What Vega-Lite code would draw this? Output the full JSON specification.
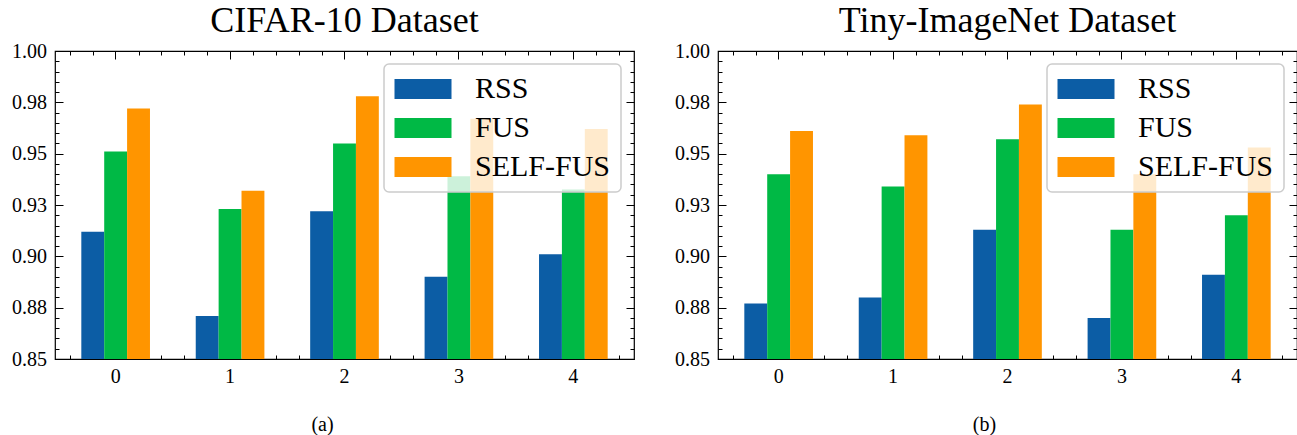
{
  "$schema": "https://vega.github.io/schema/vega-lite/v6.json",
  "padding": {"left": 10, "top": 2, "right": 0, "bottom": 0},
  "datasets": {
    "scores": [
      {"dataset": "CIFAR-10", "group": 0, "method": "RSS", "value": 0.912},
      {"dataset": "CIFAR-10", "group": 0, "method": "FUS", "value": 0.951},
      {"dataset": "CIFAR-10", "group": 0, "method": "SELF-FUS", "value": 0.972},
      {"dataset": "CIFAR-10", "group": 1, "method": "RSS", "value": 0.871},
      {"dataset": "CIFAR-10", "group": 1, "method": "FUS", "value": 0.923},
      {"dataset": "CIFAR-10", "group": 1, "method": "SELF-FUS", "value": 0.932},
      {"dataset": "CIFAR-10", "group": 2, "method": "RSS", "value": 0.922},
      {"dataset": "CIFAR-10", "group": 2, "method": "FUS", "value": 0.955},
      {"dataset": "CIFAR-10", "group": 2, "method": "SELF-FUS", "value": 0.978},
      {"dataset": "CIFAR-10", "group": 3, "method": "RSS", "value": 0.890},
      {"dataset": "CIFAR-10", "group": 3, "method": "FUS", "value": 0.939},
      {"dataset": "CIFAR-10", "group": 3, "method": "SELF-FUS", "value": 0.967},
      {"dataset": "CIFAR-10", "group": 4, "method": "RSS", "value": 0.901},
      {"dataset": "CIFAR-10", "group": 4, "method": "FUS", "value": 0.9325},
      {"dataset": "CIFAR-10", "group": 4, "method": "SELF-FUS", "value": 0.962},
      {"dataset": "Tiny-ImageNet", "group": 0, "method": "RSS", "value": 0.877},
      {"dataset": "Tiny-ImageNet", "group": 0, "method": "FUS", "value": 0.940},
      {"dataset": "Tiny-ImageNet", "group": 0, "method": "SELF-FUS", "value": 0.961},
      {"dataset": "Tiny-ImageNet", "group": 1, "method": "RSS", "value": 0.880},
      {"dataset": "Tiny-ImageNet", "group": 1, "method": "FUS", "value": 0.934},
      {"dataset": "Tiny-ImageNet", "group": 1, "method": "SELF-FUS", "value": 0.959},
      {"dataset": "Tiny-ImageNet", "group": 2, "method": "RSS", "value": 0.913},
      {"dataset": "Tiny-ImageNet", "group": 2, "method": "FUS", "value": 0.957},
      {"dataset": "Tiny-ImageNet", "group": 2, "method": "SELF-FUS", "value": 0.974},
      {"dataset": "Tiny-ImageNet", "group": 3, "method": "RSS", "value": 0.870},
      {"dataset": "Tiny-ImageNet", "group": 3, "method": "FUS", "value": 0.913},
      {"dataset": "Tiny-ImageNet", "group": 3, "method": "SELF-FUS", "value": 0.940},
      {"dataset": "Tiny-ImageNet", "group": 4, "method": "RSS", "value": 0.891},
      {"dataset": "Tiny-ImageNet", "group": 4, "method": "FUS", "value": 0.920},
      {"dataset": "Tiny-ImageNet", "group": 4, "method": "SELF-FUS", "value": 0.953}
    ]
  },
  "data": {"name": "scores"},
  "spacing": 37,
  "hconcat": [
    {
      "width": 579,
      "height": 308,
      "title": {"text": "CIFAR-10 Dataset"},
      "transform": [{"filter": "datum.dataset === 'CIFAR-10'"}],
      "layer": [
        {
          "mark": {"type": "bar", "clip": true},
          "encoding": {
            "x": {"field": "group", "type": "ordinal",
                  "scale": {"paddingInner": 0.4, "paddingOuter": 0.23},
                  "axis": {"orient": "bottom", "title": "(a)", "titleX": 267, "titleY": 65, "titleBaseline": "middle", "labelAngle": 0, "tickSize": -8, "labelPadding": 15}},
            "xOffset": {"field": "method", "sort": ["RSS", "FUS", "SELF-FUS"]},
            "y": {"field": "value", "type": "quantitative",
                  "scale": {"domain": [0.85, 1.0], "zero": false, "nice": false},
                  "axis": {"orient": "left", "title": null, "values": [0.85, 0.875, 0.9, 0.925, 0.95, 0.975, 1.0], "labelExpr": "format(datum.value + 0.0001, '.2f')", "tickSize": -8, "labelPadding": 16.5}},
            "color": {"field": "method", "type": "nominal", "sort": ["RSS", "FUS", "SELF-FUS"],
                      "scale": {"domain": ["RSS", "FUS", "SELF-FUS"], "range": ["#0C5DA5", "#00B945", "#FF9500"]},
                      "legend": {"title": null}}
          }
        },
        {
          "mark": {"type": "bar", "opacity": 0},
          "encoding": {
            "x": {"field": "group", "type": "ordinal",
                  "scale": {"paddingInner": 0.4, "paddingOuter": 0.23},
                  "axis": {"orient": "top", "title": null, "labels": false, "tickSize": -8}},
            "xOffset": {"field": "method", "sort": ["RSS", "FUS", "SELF-FUS"]},
            "y": {"field": "value", "type": "quantitative",
                  "scale": {"domain": [0.85, 1.0], "zero": false, "nice": false},
                  "axis": {"orient": "right", "title": null, "labels": false, "values": [0.85, 0.875, 0.9, 0.925, 0.95, 0.975, 1.0], "tickSize": -8}}
          }
        },
        {
          "mark": {"type": "point", "opacity": 0},
          "encoding": {
            "x": {"field": "group", "type": "quantitative",
                  "scale": {"domain": [-0.53, 4.53], "zero": false, "nice": false},
                  "axis": {"orient": "bottom", "title": null, "labels": false, "tickSize": -4, "values": [-0.4, -0.2, 0.2, 0.4, 0.6, 0.8, 1.2, 1.4, 1.6, 1.8, 2.2, 2.4, 2.6, 2.8, 3.2, 3.4, 3.6, 3.8, 4.2, 4.4]}},
            "y": {"field": "value", "type": "quantitative",
                  "scale": {"domain": [0.85, 1.0], "zero": false, "nice": false},
                  "axis": {"orient": "left", "title": null, "labels": false, "tickSize": -4, "values": [0.855, 0.86, 0.865, 0.87, 0.88, 0.885, 0.89, 0.895, 0.905, 0.91, 0.915, 0.92, 0.93, 0.935, 0.94, 0.945, 0.955, 0.96, 0.965, 0.97, 0.98, 0.985, 0.99, 0.995]}}
          }
        },
        {
          "mark": {"type": "point", "opacity": 0},
          "encoding": {
            "x": {"field": "group", "type": "quantitative",
                  "scale": {"domain": [-0.53, 4.53], "zero": false, "nice": false},
                  "axis": {"orient": "top", "title": null, "labels": false, "tickSize": -4, "values": [-0.4, -0.2, 0.2, 0.4, 0.6, 0.8, 1.2, 1.4, 1.6, 1.8, 2.2, 2.4, 2.6, 2.8, 3.2, 3.4, 3.6, 3.8, 4.2, 4.4]}},
            "y": {"field": "value", "type": "quantitative",
                  "scale": {"domain": [0.85, 1.0], "zero": false, "nice": false},
                  "axis": {"orient": "right", "title": null, "labels": false, "tickSize": -4, "values": [0.855, 0.86, 0.865, 0.87, 0.88, 0.885, 0.89, 0.895, 0.905, 0.91, 0.915, 0.92, 0.93, 0.935, 0.94, 0.945, 0.955, 0.96, 0.965, 0.97, 0.98, 0.985, 0.99, 0.995]}}
          }
        }
      ],
      "resolve": {"scale": {"x": "independent"}, "axis": {"x": "independent", "y": "independent"}}
    },
    {
      "width": 579,
      "height": 308,
      "title": {"text": "Tiny-ImageNet Dataset"},
      "transform": [{"filter": "datum.dataset === 'Tiny-ImageNet'"}],
      "layer": [
        {
          "mark": {"type": "bar", "clip": true},
          "encoding": {
            "x": {"field": "group", "type": "ordinal",
                  "scale": {"paddingInner": 0.4, "paddingOuter": 0.23},
                  "axis": {"orient": "bottom", "title": "(b)", "titleX": 266, "titleY": 65, "titleBaseline": "middle", "labelAngle": 0, "tickSize": -8, "labelPadding": 15}},
            "xOffset": {"field": "method", "sort": ["RSS", "FUS", "SELF-FUS"]},
            "y": {"field": "value", "type": "quantitative",
                  "scale": {"domain": [0.85, 1.0], "zero": false, "nice": false},
                  "axis": {"orient": "left", "title": null, "values": [0.85, 0.875, 0.9, 0.925, 0.95, 0.975, 1.0], "labelExpr": "format(datum.value + 0.0001, '.2f')", "tickSize": -8, "labelPadding": 16.5}},
            "color": {"field": "method", "type": "nominal", "sort": ["RSS", "FUS", "SELF-FUS"],
                      "scale": {"domain": ["RSS", "FUS", "SELF-FUS"], "range": ["#0C5DA5", "#00B945", "#FF9500"]},
                      "legend": {"title": null}}
          }
        },
        {
          "mark": {"type": "bar", "opacity": 0},
          "encoding": {
            "x": {"field": "group", "type": "ordinal",
                  "scale": {"paddingInner": 0.4, "paddingOuter": 0.23},
                  "axis": {"orient": "top", "title": null, "labels": false, "tickSize": -8}},
            "xOffset": {"field": "method", "sort": ["RSS", "FUS", "SELF-FUS"]},
            "y": {"field": "value", "type": "quantitative",
                  "scale": {"domain": [0.85, 1.0], "zero": false, "nice": false},
                  "axis": {"orient": "right", "title": null, "labels": false, "values": [0.85, 0.875, 0.9, 0.925, 0.95, 0.975, 1.0], "tickSize": -8}}
          }
        },
        {
          "mark": {"type": "point", "opacity": 0},
          "encoding": {
            "x": {"field": "group", "type": "quantitative",
                  "scale": {"domain": [-0.53, 4.53], "zero": false, "nice": false},
                  "axis": {"orient": "bottom", "title": null, "labels": false, "tickSize": -4, "values": [-0.4, -0.2, 0.2, 0.4, 0.6, 0.8, 1.2, 1.4, 1.6, 1.8, 2.2, 2.4, 2.6, 2.8, 3.2, 3.4, 3.6, 3.8, 4.2, 4.4]}},
            "y": {"field": "value", "type": "quantitative",
                  "scale": {"domain": [0.85, 1.0], "zero": false, "nice": false},
                  "axis": {"orient": "left", "title": null, "labels": false, "tickSize": -4, "values": [0.855, 0.86, 0.865, 0.87, 0.88, 0.885, 0.89, 0.895, 0.905, 0.91, 0.915, 0.92, 0.93, 0.935, 0.94, 0.945, 0.955, 0.96, 0.965, 0.97, 0.98, 0.985, 0.99, 0.995]}}
          }
        },
        {
          "mark": {"type": "point", "opacity": 0},
          "encoding": {
            "x": {"field": "group", "type": "quantitative",
                  "scale": {"domain": [-0.53, 4.53], "zero": false, "nice": false},
                  "axis": {"orient": "top", "title": null, "labels": false, "tickSize": -4, "values": [-0.4, -0.2, 0.2, 0.4, 0.6, 0.8, 1.2, 1.4, 1.6, 1.8, 2.2, 2.4, 2.6, 2.8, 3.2, 3.4, 3.6, 3.8, 4.2, 4.4]}},
            "y": {"field": "value", "type": "quantitative",
                  "scale": {"domain": [0.85, 1.0], "zero": false, "nice": false},
                  "axis": {"orient": "right", "title": null, "labels": false, "tickSize": -4, "values": [0.855, 0.86, 0.865, 0.87, 0.88, 0.885, 0.89, 0.895, 0.905, 0.91, 0.915, 0.92, 0.93, 0.935, 0.94, 0.945, 0.955, 0.96, 0.965, 0.97, 0.98, 0.985, 0.99, 0.995]}}
          }
        }
      ],
      "resolve": {"scale": {"x": "independent"}, "axis": {"x": "independent", "y": "independent"}}
    }
  ],
  "resolve": {"scale": {"color": "independent"}, "legend": {"color": "independent"}},
  "config": {
    "font": "Liberation Serif",
    "background": "white",
    "view": {"stroke": "black", "strokeWidth": 1.2},
    "bar": {"stroke": null},
    "axis": {
      "domain": false,
      "grid": false,
      "zindex": 1,
      "tickColor": "black",
      "tickWidth": 1,
      "labelColor": "black",
      "labelFont": "Liberation Serif",
      "labelFontSize": 20,
      "titleFont": "Liberation Serif",
      "titleFontSize": 20,
      "titleFontWeight": "normal",
      "titleColor": "black"
    },
    "title": {
      "font": "Liberation Serif",
      "fontSize": 36,
      "fontWeight": "normal",
      "color": "black",
      "anchor": "middle",
      "frame": "group",
      "offset": 1
    },
    "legend": {
      "orient": "top-right",
      "offset": 13,
      "padding": 10,
      "fillColor": "rgba(255,255,255,0.8)",
      "strokeColor": "#cccccc",
      "strokeWidth": 1.5,
      "cornerRadius": 5,
      "symbolType": "M-1.9,-0.667H1.9V0.667H-1.9Z",
      "symbolSize": 900,
      "symbolStrokeWidth": 0,
      "symbolOpacity": 1,
      "symbolOffset": 14,
      "labelOffset": 37,
      "labelFont": "Liberation Serif",
      "labelFontSize": 30,
      "labelColor": "black",
      "rowPadding": 9,
      "zindex": 2
    }
  }
}
